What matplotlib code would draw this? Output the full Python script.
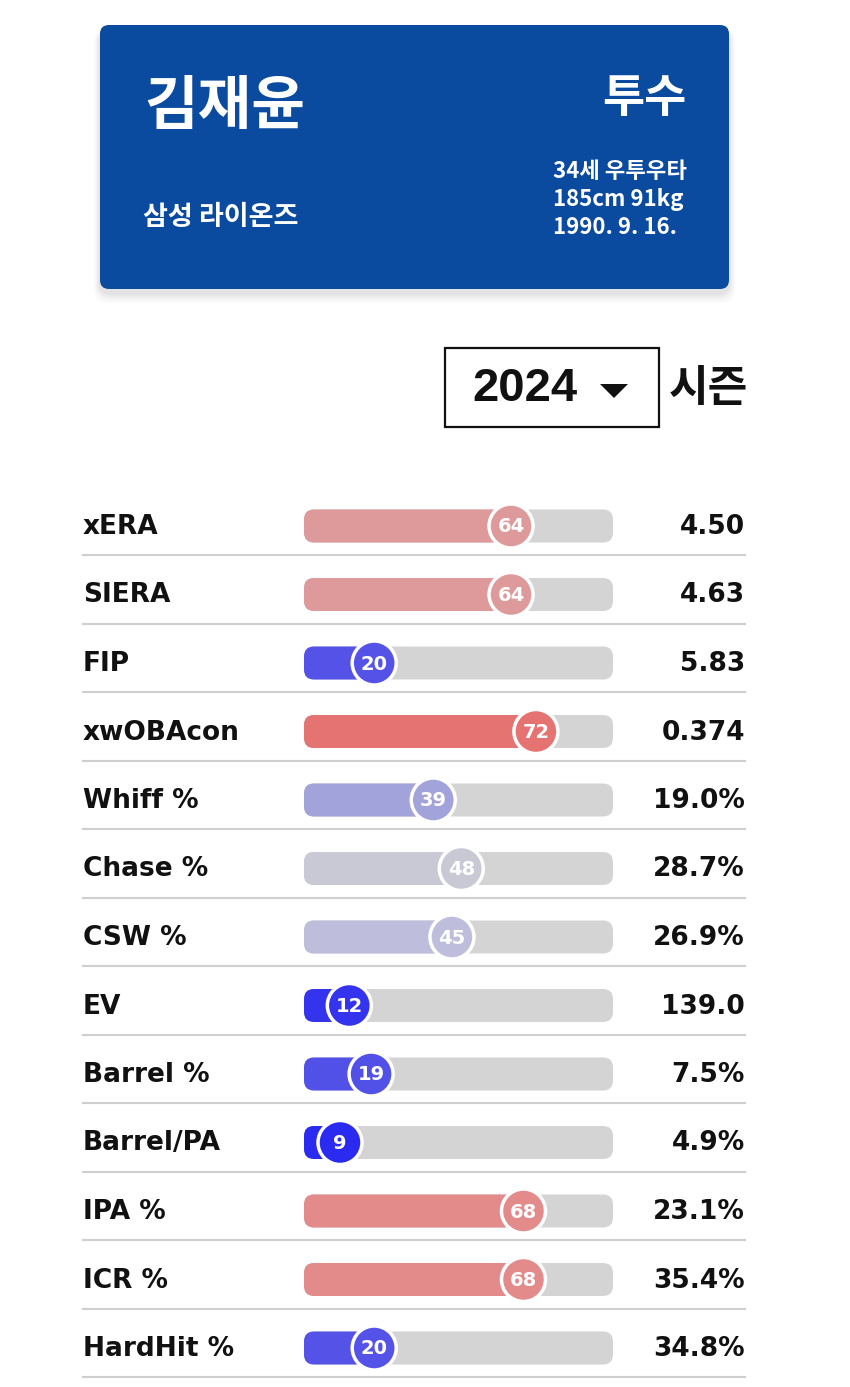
import matplotlib
matplotlib.use('Agg')
import matplotlib.pyplot as plt
from matplotlib.patches import FancyBboxPatch, Circle, Rectangle, Polygon

plt.rcParams['font.family'] = ['Noto Sans CJK KR', 'DejaVu Sans']

# player card
player_name = '김재윤'
position = '투수'
team = '삼성 라이온즈'
info_lines = ['34세 우투우타', '185cm 91kg', '1990. 9. 16.']
season = '2024'

# stat rows
metrics = ['xERA', 'SIERA', 'FIP', 'xwOBAcon', 'Whiff %', 'Chase %', 'CSW %',
           'EV', 'Barrel %', 'Barrel/PA', 'IPA %', 'ICR %', 'HardHit %']
percentiles = [64, 64, 20, 72, 39, 48, 45, 12, 19, 9, 68, 68, 20]
values = ['4.50', '4.63', '5.83', '0.374', '19.0%', '28.7%', '26.9%',
          '139.0', '7.5%', '4.9%', '23.1%', '35.4%', '34.8%']

bar_colors = ['#de9a9a', '#de9a9a', '#5552e8', '#e57372', '#a3a3dc', '#c9c9d6', '#bebedc',
              '#3434ee', '#5150e7', '#2a2af0', '#e38a8a', '#e38a8a', '#5552e8']

W, H = 850, 1387
fig = plt.figure(figsize=(W / 100, H / 100), dpi=100)
ax = fig.add_axes([0, 0, 1, 1])
ax.set_xlim(0, W)
ax.set_ylim(H, 0)
ax.axis('off')

# card shadow + card
for k, a in enumerate([0.02, 0.025, 0.03, 0.035]):
    g = 10 - k * 2.5
    ax.add_patch(FancyBboxPatch((100 - g * 0.6, 25 + 4), 629 + g * 1.2, 264 + g,
                                boxstyle='round,pad=0,rounding_size=14',
                                fc='black', ec='none', alpha=a, zorder=1))
ax.add_patch(FancyBboxPatch((100, 25), 629, 264, boxstyle='round,pad=0,rounding_size=9',
                            fc='#0a4ba0', ec='none', zorder=2))

ax.text(144, 107, player_name, color='white', fontsize=42, fontweight='bold',
        ha='left', va='center', zorder=3)
ax.text(686, 99, position, color='white', fontsize=33, fontweight='bold',
        ha='right', va='center', zorder=3)
ax.text(143, 217, team, color='white', fontsize=19.5, fontweight='bold',
        ha='left', va='center', zorder=3)
for i, line in enumerate(info_lines):
    ax.text(553, 171 + i * 28.5, line, color='white', fontsize=16, fontweight='bold',
            ha='left', va='center', zorder=3)

# season selector
ax.add_patch(Rectangle((445.5, 347.5), 213.5, 79, fc='white', ec='#111111', lw=1.6, zorder=2))
ax.text(525, 389, season, color='#111111', fontsize=34, fontweight='bold',
        family=['Liberation Sans', 'DejaVu Sans'], ha='center', va='center', zorder=3)
ax.add_patch(Polygon([[600, 384], [628, 384], [614, 398]], closed=True,
                     fc='#111111', ec='none', zorder=3))
ax.text(708, 388, '시즌', color='#111111', fontsize=31, fontweight='bold',
        ha='center', va='center', zorder=3)

# stat rows
bar_x0, bar_w, bar_h = 304, 309, 33
lab_font = ['DejaVu Sans']
for i, (name, pct, val, col) in enumerate(zip(metrics, percentiles, values, bar_colors)):
    yc = 526 + i * 68.5
    ax.text(83, yc + 1, name, color='#111111', fontsize=19, fontweight='bold',
            family=lab_font, ha='left', va='center', zorder=3)
    ax.text(745, yc + 1, val, color='#111111', fontsize=19, fontweight='bold',
            family=lab_font, ha='right', va='center', zorder=3)
    ax.add_patch(FancyBboxPatch((bar_x0, yc - bar_h / 2), bar_w, bar_h,
                                boxstyle='round,pad=0,rounding_size=10',
                                fc='#d4d4d4', ec='none', zorder=2))
    cx = bar_x0 + 8 + pct / 100 * (bar_w + 2)
    ax.add_patch(FancyBboxPatch((bar_x0, yc - bar_h / 2), cx - bar_x0, bar_h,
                                boxstyle='round,pad=0,rounding_size=10',
                                fc=col, ec='none', zorder=3))
    ax.add_patch(Circle((cx, yc), 22, fc=col, ec='white', lw=2.5, zorder=4))
    ax.text(cx, yc + 1, str(pct), color='white', fontsize=14, fontweight='bold',
            family=lab_font, ha='center', va='center', zorder=5)
    ax.plot([83, 745], [yc + 29, yc + 29], color='#cfcfcf', lw=1.5, zorder=2)

fig.savefig('out.png', dpi=100, facecolor='white')
